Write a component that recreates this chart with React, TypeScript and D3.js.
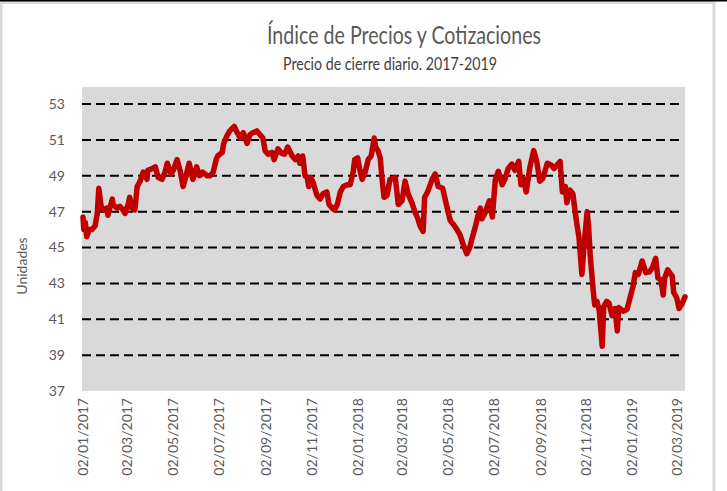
import React from "react";
import * as d3 from "d3";

// fechas y precios de cierre
const dates = [
  "2017-01-02", "2017-01-03", "2017-01-05", "2017-01-07", "2017-01-10", "2017-01-14", "2017-01-18", "2017-01-21",
  "2017-01-23", "2017-01-26", "2017-01-29", "2017-02-03", "2017-02-04", "2017-02-10", "2017-02-11", "2017-02-16",
  "2017-02-20", "2017-02-24", "2017-02-27", "2017-03-03", "2017-03-05", "2017-03-08", "2017-03-12", "2017-03-15",
  "2017-03-19", "2017-03-23", "2017-03-28", "2017-03-29", "2017-04-04", "2017-04-08", "2017-04-12", "2017-04-17",
  "2017-04-21", "2017-04-24", "2017-04-29", "2017-05-02", "2017-05-07", "2017-05-11", "2017-05-15", "2017-05-19",
  "2017-05-23", "2017-05-28", "2017-06-02", "2017-06-06", "2017-06-10", "2017-06-16", "2017-06-20", "2017-06-24",
  "2017-06-28", "2017-06-30", "2017-07-06", "2017-07-08", "2017-07-12", "2017-07-16", "2017-07-22", "2017-07-26",
  "2017-07-30", "2017-08-03", "2017-08-08", "2017-08-12", "2017-08-16", "2017-08-21", "2017-08-25", "2017-08-29",
  "2017-09-01", "2017-09-05", "2017-09-10", "2017-09-13", "2017-09-18", "2017-09-23", "2017-09-27", "2017-10-01",
  "2017-10-07", "2017-10-11", "2017-10-15", "2017-10-17", "2017-10-21", "2017-10-24", "2017-10-27", "2017-10-29",
  "2017-11-01", "2017-11-04", "2017-11-09", "2017-11-13", "2017-11-17", "2017-11-22", "2017-11-25", "2017-11-29",
  "2017-12-02", "2017-12-06", "2017-12-10", "2017-12-14", "2017-12-19", "2017-12-23", "2017-12-27", "2017-12-29",
  "2018-01-02", "2018-01-05", "2018-01-08", "2018-01-12", "2018-01-16", "2018-01-20", "2018-01-24", "2018-01-26",
  "2018-01-29", "2018-02-01", "2018-02-03", "2018-02-06", "2018-02-10", "2018-02-14", "2018-02-21", "2018-02-25",
  "2018-03-02", "2018-03-06", "2018-03-10", "2018-03-15", "2018-03-19", "2018-03-23", "2018-03-26", "2018-03-30",
  "2018-04-01", "2018-04-05", "2018-04-11", "2018-04-15", "2018-04-19", "2018-04-25", "2018-05-01", "2018-05-05",
  "2018-05-09", "2018-05-14", "2018-05-18", "2018-05-22", "2018-05-27", "2018-05-31", "2018-06-03", "2018-06-07",
  "2018-06-11", "2018-06-14", "2018-06-16", "2018-06-20", "2018-06-26", "2018-06-30", "2018-07-04", "2018-07-08",
  "2018-07-13", "2018-07-17", "2018-07-21", "2018-07-26", "2018-07-30", "2018-08-04", "2018-08-07", "2018-08-10",
  "2018-08-14", "2018-08-19", "2018-08-24", "2018-08-28", "2018-09-01", "2018-09-05", "2018-09-11", "2018-09-16",
  "2018-09-20", "2018-09-24", "2018-09-28", "2018-10-01", "2018-10-05", "2018-10-07", "2018-10-11", "2018-10-15",
  "2018-10-18", "2018-10-20", "2018-10-23", "2018-10-27", "2018-10-30", "2018-11-03", "2018-11-05", "2018-11-07",
  "2018-11-11", "2018-11-13", "2018-11-16", "2018-11-19", "2018-11-23", "2018-11-25", "2018-11-29", "2018-12-02",
  "2018-12-06", "2018-12-10", "2018-12-13", "2018-12-15", "2018-12-21", "2018-12-26", "2018-12-30", "2019-01-03",
  "2019-01-06", "2019-01-10", "2019-01-15", "2019-01-20", "2019-01-25", "2019-01-29", "2019-02-02", "2019-02-05",
  "2019-02-09", "2019-02-12", "2019-02-14", "2019-02-18", "2019-02-24", "2019-02-26", "2019-03-02", "2019-03-05",
  "2019-03-09", "2019-03-13",
];

const prices = [
  46.7, 46.0, 46.4, 45.6, 46.0, 46.0, 46.2, 46.9,
  48.3, 47.3, 47.1, 47.2, 46.8, 47.7, 47.4, 47.2,
  47.3, 47.1, 46.9, 47.4, 47.8, 47.2, 47.1, 48.4,
  48.7, 49.2, 48.8, 49.3, 49.4, 49.5, 48.9, 48.8,
  49.2, 49.7, 49.1, 49.3, 49.9, 49.3, 48.4, 49.0,
  49.7, 48.8, 49.5, 49.0, 49.2, 49.0, 49.0, 49.2,
  49.9, 50.1, 50.3, 50.8, 51.2, 51.5, 51.75, 51.4,
  51.1, 51.4, 50.8, 51.3, 51.4, 51.5, 51.3, 51.1,
  50.4, 50.2, 50.3, 49.9, 50.5, 50.25, 50.2, 50.6,
  50.1, 49.9, 50.1, 49.7, 50.1, 49.0, 48.9, 48.4,
  48.9, 48.6, 47.9, 47.7, 48.0, 48.1, 47.4, 47.2,
  47.1, 47.4, 48.1, 48.4, 48.5, 48.5, 49.2, 49.9,
  50.0, 49.3, 48.8, 49.2, 49.9, 50.1, 51.1, 50.6,
  50.4, 50.0, 49.0, 47.8, 47.9, 48.8, 48.9, 47.4,
  47.6, 48.7, 48.0, 47.5, 47.0, 46.6, 46.2, 45.9,
  47.8, 48.1, 48.8, 49.1, 48.4, 48.3, 47.2, 46.5,
  46.3, 46.0, 45.7, 45.2, 44.65, 45.0, 45.5, 46.1,
  46.8, 47.2, 46.6, 46.9, 47.6, 46.7, 48.8, 49.25,
  48.5, 48.85, 49.4, 49.65, 49.3, 49.8, 48.5, 48.85,
  48.1, 49.5, 50.4, 49.8, 48.7, 48.85, 49.7, 49.6,
  49.4, 49.6, 49.8, 48.1, 48.4, 47.5, 48.2, 48.0,
  47.0, 46.4, 45.6, 43.5, 45.2, 47.0, 46.1, 44.6,
  42.6, 41.8, 42.0, 41.5, 39.5, 41.7, 42.0, 41.9,
  41.2, 41.6, 40.35, 41.65, 41.45, 41.55, 42.2, 42.85,
  43.6, 43.5, 44.25, 43.6, 43.65, 43.9, 44.4, 43.3,
  43.2, 42.35, 43.3, 43.75, 43.4, 42.5, 42.2, 41.6,
  41.85, 42.25,
];

const yTicks = [37, 39, 41, 43, 45, 47, 49, 51, 53];
const gridValues = [39, 41, 43, 45, 47, 49, 51, 53];
const xTickLabels = [
  "02/01/2017", "02/03/2017", "02/05/2017", "02/07/2017", "02/09/2017", "02/11/2017", "02/01/2018",
  "02/03/2018", "02/05/2018", "02/07/2018", "02/09/2018", "02/11/2018", "02/01/2019", "02/03/2019",
];

const width = 727;
const height = 491;
const plot = { left: 82, right: 685, top: 87, bottom: 391 };
const font = "Lato, 'Open Sans', sans-serif";
const textGrey = "#595959";

const App = () => {
  const parseIso = d3.timeParse("%Y-%m-%d");
  const parseTick = d3.timeParse("%d/%m/%Y");
  const series = dates.map((d, i) => ({ date: parseIso(d) as Date, value: prices[i] }));

  const x = d3
    .scaleTime()
    .domain([parseIso("2017-01-02") as Date, parseIso("2019-03-13") as Date])
    .range([plot.left + 1, plot.right]);

  const y = d3.scaleLinear().domain([37, 53]).range([plot.bottom, 104]);

  const line = d3
    .line<{ date: Date; value: number }>()
    .x((d) => x(d.date))
    .y((d) => y(d.value));

  return (
    <svg
      width={width}
      height={height}
      style={{ position: "absolute", left: 0, top: 0, background: "#fff" }}
    >
      {/* marco */}
      <rect x={1} y={2.5} width={713} height={height} fill="none" stroke="#d9d9d9" strokeWidth={3} />
      <rect x={0} y={0} width={width} height={1.5} fill="#000" />

      <text
        x={404}
        y={44}
        textAnchor="middle"
        fontFamily={font}
        fontSize={25}
        fill={textGrey}
        textLength={274}
        lengthAdjust="spacingAndGlyphs"
      >
        Índice de Precios y Cotizaciones
      </text>
      <text
        x={390}
        y={70}
        textAnchor="middle"
        fontFamily={font}
        fontSize={17}
        fill="#404040"
        textLength={214}
        lengthAdjust="spacingAndGlyphs"
      >
        Precio de cierre diario. 2017-2019
      </text>

      <rect
        x={plot.left}
        y={plot.top}
        width={plot.right - plot.left}
        height={plot.bottom - plot.top}
        fill="#d9d9d9"
      />

      {gridValues.map((v) => (
        <line
          key={v}
          x1={plot.left}
          x2={plot.right - 2}
          y1={y(v)}
          y2={y(v)}
          stroke="#000"
          strokeWidth={2}
          strokeDasharray="9,5"
        />
      ))}

      {yTicks.map((v) => (
        <text
          key={v}
          x={65}
          y={y(v)}
          dy="0.35em"
          textAnchor="end"
          fontFamily={font}
          fontSize={14}
          fill={textGrey}
        >
          {v}
        </text>
      ))}

      {xTickLabels.map((t) => {
        const px = x(parseTick(t) as Date);
        return (
          <text
            key={t}
            transform={`translate(${px + 5},${plot.bottom + 7}) rotate(-90)`}
            textAnchor="end"
            fontFamily={font}
            fontSize={14}
            fill={textGrey}
          >
            {t}
          </text>
        );
      })}

      <text
        transform={`translate(27,266) rotate(-90)`}
        textAnchor="middle"
        fontFamily={font}
        fontSize={14}
        fill={textGrey}
      >
        Unidades
      </text>

      <path
        d={line(series) ?? ""}
        fill="none"
        stroke="#c00000"
        strokeWidth={5.5}
        strokeLinejoin="round"
        strokeLinecap="round"
      />
    </svg>
  );
};

export default App;
